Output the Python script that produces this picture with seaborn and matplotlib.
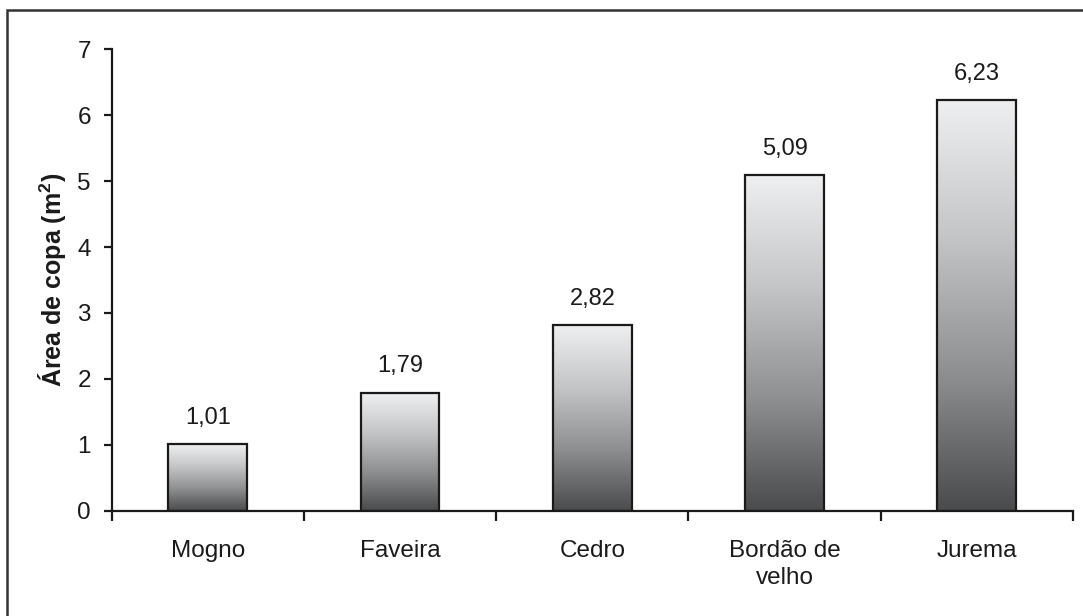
import numpy as np
import pandas as pd
import matplotlib
matplotlib.use('Agg')
import matplotlib.pyplot as plt
from matplotlib.colors import LinearSegmentedColormap
from matplotlib.patches import Rectangle
import seaborn as sns

# dados
especies = ['Mogno', 'Faveira', 'Cedro', 'Bordão de\nvelho', 'Jurema']
area_copa = [1.01, 1.79, 2.82, 5.09, 6.23]
rotulos = ['1,01', '1,79', '2,82', '5,09', '6,23']
yticks = [0, 1, 2, 3, 4, 5, 6, 7]

df = pd.DataFrame({'especie': especies, 'area': area_copa})

sns.set_style('white')
plt.rcParams['font.family'] = ['Liberation Sans', 'DejaVu Sans']
plt.rcParams['mathtext.fontset'] = 'custom'
plt.rcParams['mathtext.rm'] = 'Liberation Sans'
plt.rcParams['mathtext.bf'] = 'Liberation Sans:bold'

fig = plt.figure(figsize=(10.83, 6.16), dpi=100)
ax = fig.add_axes([0.1031, 0.171, 0.8877, 0.749])

sns.barplot(data=df, x='especie', y='area', color='#999999', width=0.41,
            edgecolor='#1a1a1a', linewidth=1.6, ax=ax, zorder=3)

# gradiente vertical em cada barra
cmap = LinearSegmentedColormap.from_list('g', ['#4a4b4d', '#8e8f91', '#c4c5c7', '#eeeff0'])
grad = np.linspace(0, 1, 256).reshape(-1, 1)
for p in ax.patches:
    x0, y0 = p.get_x(), p.get_y()
    w, h = p.get_width(), p.get_height()
    im = ax.imshow(grad, cmap=cmap, aspect='auto', origin='lower',
                   extent=[x0, x0 + w, y0, y0 + h], zorder=2)
    im.set_clip_path(p)
    p.set_facecolor('none')

for i, (v, t) in enumerate(zip(area_copa, rotulos)):
    ax.annotate(t, (i, v), xytext=(0, 11), textcoords='offset points',
                ha='center', va='bottom', fontsize=17, color='#1a1a1a')

ax.set_xlim(-0.5, 4.5)
ax.set_ylim(0, 7)
ax.set_yticks(yticks)
ax.set_yticklabels([str(y) for y in yticks], fontsize=17.5, color='#1a1a1a')

ax.set_xticks(np.arange(-0.5, 5, 1))
ax.set_xticklabels([''] * 6)
ax.set_xticks(range(len(especies)), minor=True)
ax.set_xticklabels(especies, minor=True, fontsize=17.5, color='#1a1a1a', va='top',
                   linespacing=1.3)
ax.tick_params(axis='x', which='minor', length=0, pad=21)
ax.tick_params(axis='x', which='major', direction='out', length=7, width=1.6,
               color='#1a1a1a', bottom=True)
ax.tick_params(axis='y', direction='out', length=6, width=1.6, color='#1a1a1a',
               left=True, pad=9)

ax.set_xlabel('')
ax.set_ylabel(r'Área de copa (m$^{\mathbf{2}}$)', fontsize=18, fontweight='bold',
              color='#1a1a1a')
ax.yaxis.set_label_coords(-0.045, 0.5)

for s in ['top', 'right']:
    ax.spines[s].set_visible(False)
for s in ['left', 'bottom']:
    ax.spines[s].set_linewidth(1.6)
    ax.spines[s].set_color('#1a1a1a')

# moldura externa (cortada na direita e embaixo)
fig.patches.append(Rectangle((7 / 1083, -0.1), 1.2, 1.1 - 10 / 616,
                             transform=fig.transFigure, fill=False,
                             edgecolor='#333333', linewidth=1.8))

fig.savefig('out.png', dpi=100)
